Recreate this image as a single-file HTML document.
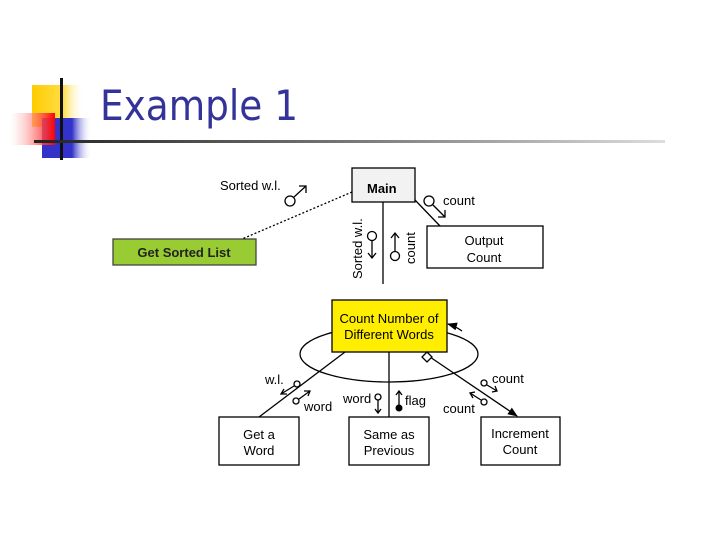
<!DOCTYPE html>
<html><head><meta charset="utf-8"><style>
html,body{margin:0;padding:0;background:#fff;width:720px;height:540px;overflow:hidden}
svg{display:block}
text{font-family:"Liberation Sans",Arial,sans-serif}
</style></head><body>
<svg width="720" height="540" viewBox="0 0 720 540" xmlns="http://www.w3.org/2000/svg">
<defs>
<linearGradient id="gy" x1="0" x2="1"><stop offset="0" stop-color="#ffcc00"/><stop offset="0.6" stop-color="#ffdd44"/><stop offset="1" stop-color="#fff" stop-opacity="0"/></linearGradient>
<linearGradient id="gr" x1="0" x2="1"><stop offset="0" stop-color="#fff" stop-opacity="0.3"/><stop offset="1" stop-color="#ff0000"/></linearGradient>
<linearGradient id="gb" x1="0" x2="1"><stop offset="0" stop-color="#3333cc"/><stop offset="0.6" stop-color="#3333cc"/><stop offset="1" stop-color="#fff" stop-opacity="0"/></linearGradient>
<linearGradient id="gl" x1="0" x2="1"><stop offset="0" stop-color="#222"/><stop offset="0.5" stop-color="#777"/><stop offset="1" stop-color="#ddd"/></linearGradient>
<marker id="ah" markerWidth="10" markerHeight="8" refX="9" refY="4" orient="auto" markerUnits="userSpaceOnUse"><path d="M0,0 L10,4 L0,8 z" fill="#000"/></marker>
</defs>
<rect x="32" y="85" width="52" height="42" fill="url(#gy)"/>
<rect x="42" y="118" width="50" height="40" fill="url(#gb)"/>
<rect x="10" y="113" width="45" height="32" fill="url(#gr)"/>
<rect x="60" y="78" width="3" height="82" fill="#111"/>
<rect x="34" y="140" width="631" height="3" fill="url(#gl)"/>
<text x="100" y="120" font-size="42" fill="#333399" textLength="198" lengthAdjust="spacingAndGlyphs" style="font-family:'DejaVu Sans','Liberation Sans',sans-serif">Example 1</text>

<g stroke="#000" stroke-width="1.3" fill="none">
<rect x="352" y="168" width="63" height="34" fill="#f2f2f2"/>
<rect x="427" y="226" width="116" height="42" fill="#fff"/>
<rect x="113" y="239" width="143" height="26" fill="#99cc33" stroke="#444"/>
<line x1="383" y1="202" x2="383" y2="284"/>
<line x1="415" y1="200" x2="440" y2="226"/>
<line x1="352" y1="192" x2="242" y2="239" stroke-dasharray="2,2"/>
<circle cx="290" cy="201" r="5"/><line x1="294" y1="197" x2="306" y2="186"/><path d="M299,186 L306,186 L306,193"/>
<circle cx="429" cy="201" r="5"/><line x1="433" y1="205" x2="445" y2="217"/><path d="M438,217 L445,217 L445,210"/>
<circle cx="372" cy="236" r="4.5"/><line x1="372" y1="241" x2="372" y2="258"/><path d="M368,253 L372,258 L376,253"/>
<circle cx="395" cy="256" r="4.5"/><line x1="395" y1="251" x2="395" y2="233"/><path d="M391,238 L395,233 L399,238"/>
<ellipse cx="389" cy="354" rx="89" ry="28"/>
<rect x="332" y="300" width="115" height="52" fill="#ffee00"/>
<rect x="219" y="417" width="80" height="48" fill="#fff"/>
<rect x="349" y="417" width="80" height="48" fill="#fff"/>
<rect x="481" y="417" width="79" height="48" fill="#fff"/>
<line x1="345" y1="352" x2="259" y2="417"/>
<line x1="389" y1="352" x2="389" y2="417"/>
<line x1="430" y1="357" x2="517" y2="416" marker-end="url(#ah)"/>
<path d="M427,352 L432,357 L427,362 L422,357 z" fill="#fff"/>
<path d="M462,331 Q455,326 448,324" marker-end="url(#ah)"/>
<circle cx="297" cy="384" r="3"/><line x1="294" y1="386" x2="281" y2="394"/><path d="M287,394 L281,394 L284,389"/>
<circle cx="296" cy="401" r="3"/><line x1="299" y1="399" x2="310" y2="391"/><path d="M304,391 L310,391 L308,396"/>
<circle cx="378" cy="397" r="3"/><line x1="378" y1="400" x2="378" y2="412"/><path d="M375,409 L378,413 L381,409"/>
<line x1="399" y1="406" x2="399" y2="392"/><path d="M396,395 L399,391 L402,395"/>
<circle cx="484" cy="383" r="3"/><line x1="487" y1="385" x2="497" y2="391"/><path d="M492,392 L497,391 L495,386"/>
<circle cx="484" cy="402" r="3"/><line x1="481" y1="400" x2="470" y2="393"/><path d="M475,392 L470,393 L473,398"/>
</g>
<circle cx="399" cy="408" r="3.5" fill="#000"/>

<g font-size="13" fill="#000">
<text x="220" y="190">Sorted w.l.</text>
<text x="443" y="205">count</text>
<text x="367" y="193" font-weight="bold" font-size="13">Main</text>
<text x="484" y="245" text-anchor="middle">Output</text>
<text x="484" y="262" text-anchor="middle">Count</text>
<text x="184" y="257" text-anchor="middle" font-weight="bold" fill="#222">Get Sorted List</text>
<text transform="translate(362,279) rotate(-90)">Sorted w.l.</text>
<text transform="translate(415,264) rotate(-90)">count</text>
<text x="389" y="323" text-anchor="middle">Count Number of</text>
<text x="389" y="339" text-anchor="middle">Different Words</text>
<text x="265" y="384">w.l.</text>
<text x="304" y="411">word</text>
<text x="343" y="403">word</text>
<text x="405" y="405">flag</text>
<text x="492" y="383">count</text>
<text x="443" y="413">count</text>
<text x="259" y="439" text-anchor="middle">Get a</text>
<text x="259" y="455" text-anchor="middle">Word</text>
<text x="389" y="439" text-anchor="middle">Same as</text>
<text x="389" y="455" text-anchor="middle">Previous</text>
<text x="520" y="438" text-anchor="middle">Increment</text>
<text x="520" y="454" text-anchor="middle">Count</text>
</g>
</svg>
</body></html>
